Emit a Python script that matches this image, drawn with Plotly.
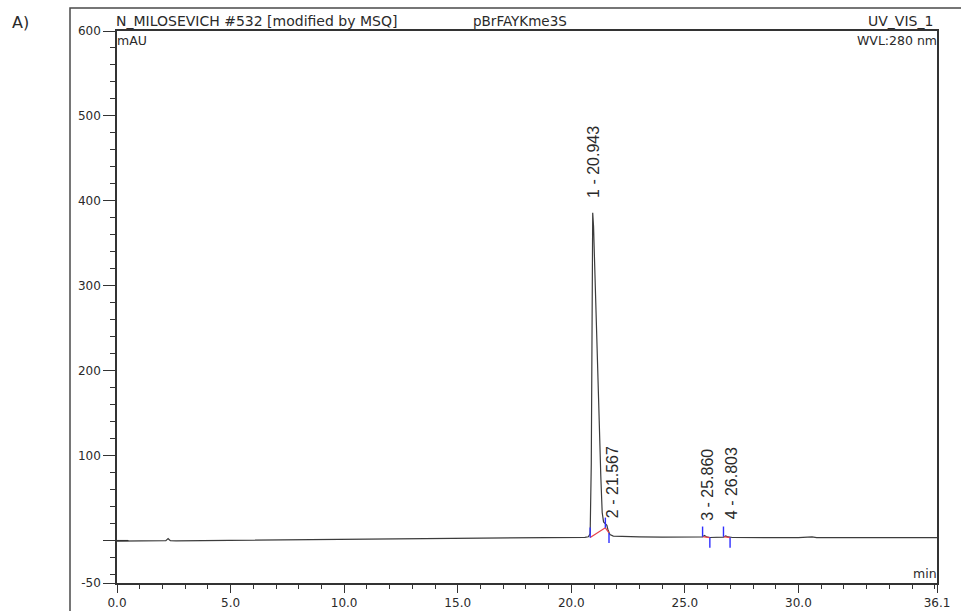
import plotly.graph_objects as go

# ---------------- data ----------------
time_min = [0.0, 0.5, 1.0, 1.5, 2.0, 2.15, 2.25, 2.35, 2.6, 3.5, 5.0, 6.5, 8.0, 9.5,
            11.0, 12.5, 14.0, 15.5, 17.0, 18.5, 19.5, 20.3, 20.6, 20.75, 20.83, 20.88,
            20.92, 20.943, 20.98, 21.05, 21.10, 21.20, 21.30, 21.36, 21.42, 21.50,
            21.567, 21.62, 21.70, 21.85, 22.2, 23.0, 24.0, 25.0, 25.6, 25.78, 25.86,
            25.95, 26.10, 26.5, 26.70, 26.80, 26.90, 27.1, 28.0, 29.0, 30.0, 30.6,
            30.8, 32.0, 33.5, 35.0, 36.1]
signal_mau = [-0.6, -0.4, -0.5, -0.3, -0.4, -0.2, 2.2, -0.1, -0.3, -0.1, 0.2, 0.4, 0.6, 0.9,
              1.2, 1.5, 1.8, 2.1, 2.5, 2.9, 3.2, 3.5, 3.8, 4.5, 8.0, 90.0,
              300.0, 386.0, 370.0, 312.0, 266.0, 168.0, 75.0, 33.0, 22.0, 19.0,
              18.0, 12.0, 7.0, 5.2, 4.8, 4.4, 4.0, 3.8, 3.9, 4.2, 6.0,
              4.5, 3.6, 3.7, 4.0, 5.5, 4.2, 3.6, 3.5, 3.6, 3.4, 4.4,
              3.5, 3.5, 3.6, 3.5, 3.5]

peak_numbers = [1, 2, 3, 4]
peak_times = [20.943, 21.567, 25.860, 26.803]
peak_heights = [386.0, 18.0, 6.0, 5.5]

# integration boundaries (time, baseline value, tick direction)
bound_times = [20.83, 21.50, 21.66, 25.78, 26.10, 26.70, 26.99]
bound_values = [3.5, 15.0, 9.0, 4.5, 3.5, 4.5, 3.5]
bound_dirs = [1, 1, -1, 1, -1, 1, -1]
# integration baselines as pairs of boundary indices
baseline_pairs = [(0, 1), (1, 2), (3, 4), (5, 6)]

x_tickvals = [0.0, 5.0, 10.0, 15.0, 20.0, 25.0, 30.0, 36.1]
x_ticktext = ["0.0", "5.0", "10.0", "15.0", "20.0", "25.0", "30.0", "36.1"]
y_tickvals = [-50, 0, 100, 200, 300, 400, 500, 600]
y_ticktext = ["-50", "", "100", "200", "300", "400", "500", "600"]

header_left = "N_MILOSEVICH #532 [modified by MSQ]"
header_mid = "pBrFAYKme3S"
header_right = "UV_VIS_1"
y_unit = "mAU"
wavelength = "WVL:280 nm"
x_unit = "min"
panel_label = "A)"

# ---------------- styling ----------------
TICK_LEN = 12
label_xshift = [1.5, 5, 3, 6.5]
label_yshift = [13, 5, 13, 15]
FONT = "DejaVu Sans"
INK = "#2a2a2a"

fig = go.Figure()

fig.add_trace(go.Scatter(x=time_min, y=signal_mau, mode="lines",
                         line=dict(color="#3c3c3c", width=1.2),
                         hoverinfo="skip"))

# red integration baselines
rx, ry = [], []
for a, b in baseline_pairs:
    rx += [bound_times[a], bound_times[b], None]
    ry += [bound_values[a], bound_values[b], None]
fig.add_trace(go.Scatter(x=rx, y=ry, mode="lines",
                         line=dict(color="#e8404a", width=1.2), hoverinfo="skip"))

# blue boundary ticks
bx, by = [], []
for t, v, d in zip(bound_times, bound_values, bound_dirs):
    bx += [t, t, None]
    by += [v, v + d * TICK_LEN, None]
fig.add_trace(go.Scatter(x=bx, y=by, mode="lines",
                         line=dict(color="#2e2eff", width=1.4), hoverinfo="skip"))

# peak labels
for n, t, h, xs, ys in zip(peak_numbers, peak_times, peak_heights, label_xshift, label_yshift):
    fig.add_annotation(x=t, y=h, xref="x", yref="y", text=f"{n} - {t:.3f}",
                       textangle=-90, showarrow=False, xanchor="center", yanchor="bottom",
                       xshift=xs, yshift=ys,
                       font=dict(family="Liberation Sans", size=16, color=INK))

# header texts
def ptxt(text, x, y, xanchor, yanchor="middle", size=13.5):
    fig.add_annotation(x=x, y=y, xref="paper", yref="paper", text=text, showarrow=False,
                       xanchor=xanchor, yanchor=yanchor,
                       font=dict(family=FONT, size=size, color=INK))

H = 552.0
W = 820.0
ptxt(header_left, -0.004, (583 - 21) / H, "left", size=14)
ptxt(header_mid, (520 - 117) / W, (583 - 21) / H, "center")
ptxt(header_right, (935 - 117) / W, (583 - 21) / H, "right", size=14)
ptxt(y_unit, -0.002, (583 - 41) / H, "left", size=12.5)
ptxt(wavelength, 1.003, (583 - 41) / H, "right", size=12.5)
ptxt(x_unit, 1.003, (583 - 573) / H, "right", size=12.5)
ptxt(panel_label, (10 - 117) / W, (583 - 22) / H, "left", size=16)

# outer frame
fig.add_shape(type="rect", xref="paper", yref="paper",
              x0=(70 - 117) / W, x1=(966 - 117) / W,
              y0=(583 - 616) / H, y1=(583 - 8) / H,
              line=dict(color="#4a4a4a", width=1.5), fillcolor="rgba(0,0,0,0)")

# zero tick crossing the axis
fig.add_shape(type="line", xref="x domain", yref="y", x0=0, x1=0.014, y0=0, y1=0,
              line=dict(color="#333", width=1.2))

fig.update_layout(
    width=961, height=611,
    margin=dict(l=117, r=24, t=31, b=28, autoexpand=False),
    paper_bgcolor="white", plot_bgcolor="white",
    showlegend=False,
    font=dict(family=FONT, size=12, color=INK),
    xaxis=dict(range=[0, 36.1], showline=True, linecolor="#333", linewidth=1.5,
               mirror=True, showgrid=False, zeroline=False, automargin=False,
               tickmode="array", tickvals=x_tickvals, ticktext=x_ticktext,
               ticks="outside", ticklen=8, tickwidth=1.3, tickcolor="#333",
               tickfont=dict(family=FONT, size=12, color=INK),
               minor=dict(ticks="outside", dtick=1, tick0=0, ticklen=4,
                          tickwidth=1.2, tickcolor="#333", showgrid=False)),
    yaxis=dict(range=[-50, 600], showline=True, linecolor="#333", linewidth=1.5,
               mirror=True, showgrid=False, zeroline=False, automargin=False,
               tickmode="array", tickvals=y_tickvals, ticktext=y_ticktext,
               ticks="outside", ticklen=12, tickwidth=1.3, tickcolor="#333",
               tickfont=dict(family=FONT, size=12, color=INK),
               minor=dict(ticks="outside", dtick=20, tick0=0, ticklen=5,
                          tickwidth=1.2, tickcolor="#333", showgrid=False)),
)

fig.write_html("out.html", config={"displayModeBar": False},
               post_script="document.body.style.margin='0';document.body.style.overflow='hidden';")
